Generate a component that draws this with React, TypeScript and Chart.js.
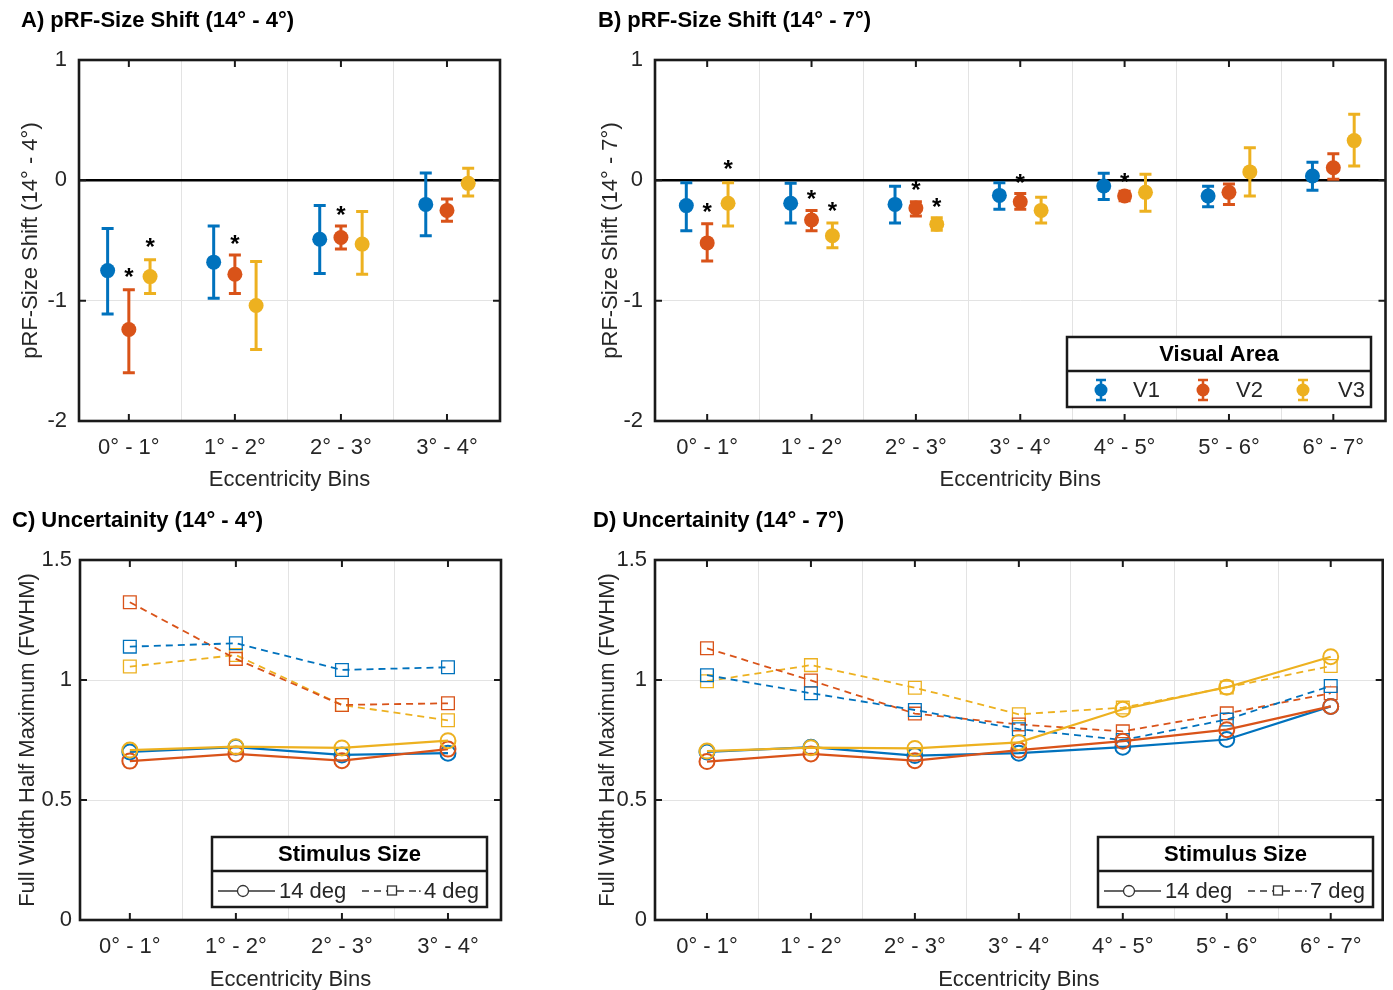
import React, { useEffect, useRef } from "react";
import { Chart, registerables } from "chart.js";
Chart.register(...registerables);

const FONT = "'Liberation Sans', Arial, Helvetica, sans-serif";
const TEXT_COLOR = "#262626";
const AXIS_COLOR = "#1a1a1a";
const GRID_COLOR = "#e3e3e3";
const BLUE = "#0072BD";
const ORANGE = "#D95319";
const YELLOW = "#EDB120";
const AREA_COLORS = [BLUE, ORANGE, YELLOW];
const AREA_NAMES = ["V1", "V2", "V3"];
const AREA_OFFSETS = [-0.2, 0, 0.2];

// ---------- categories / ticks ----------
const binsA = ["0° - 1°", "1° - 2°", "2° - 3°", "3° - 4°"];
const binsB = ["0° - 1°", "1° - 2°", "2° - 3°", "3° - 4°", "4° - 5°", "5° - 6°", "6° - 7°"];
const shiftTicks = [-2, -1, 0, 1];
const fwhmTicks = [0, 0.5, 1, 1.5];

// ---------- Panel A: pRF-size shift (14° - 4°) ----------
const shiftA_V1 = [-0.75, -0.68, -0.49, -0.2];
const shiftA_V1_hi = [-0.4, -0.38, -0.21, 0.06];
const shiftA_V1_lo = [-1.11, -0.98, -0.775, -0.46];
const shiftA_V2 = [-1.24, -0.78, -0.475, -0.25];
const shiftA_V2_hi = [-0.91, -0.62, -0.38, -0.155];
const shiftA_V2_lo = [-1.6, -0.94, -0.57, -0.34];
const shiftA_V3 = [-0.8, -1.04, -0.53, -0.025];
const shiftA_V3_hi = [-0.66, -0.675, -0.26, 0.1];
const shiftA_V3_lo = [-0.94, -1.405, -0.78, -0.13];
const starsA_bin = [0, 0, 1, 2];
const starsA_area = [1, 2, 1, 1];
const starsA_y = [-0.76, -0.51, -0.48, -0.24];

// ---------- Panel B: pRF-size shift (14° - 7°) ----------
const shiftB_V1 = [-0.21, -0.19, -0.2, -0.125, -0.047, -0.13, 0.036];
const shiftB_V1_hi = [-0.02, -0.025, -0.05, -0.02, 0.058, -0.05, 0.15];
const shiftB_V1_lo = [-0.42, -0.355, -0.355, -0.24, -0.16, -0.22, -0.083];
const shiftB_V2 = [-0.52, -0.33, -0.23, -0.178, -0.13, -0.1, 0.105];
const shiftB_V2_hi = [-0.36, -0.25, -0.178, -0.11, -0.09, -0.03, 0.22];
const shiftB_V2_lo = [-0.67, -0.42, -0.297, -0.24, -0.17, -0.2, 0.008];
const shiftB_V3 = [-0.19, -0.46, -0.364, -0.25, -0.1, 0.07, 0.33];
const shiftB_V3_hi = [-0.02, -0.355, -0.31, -0.14, 0.05, 0.27, 0.55];
const shiftB_V3_lo = [-0.38, -0.56, -0.414, -0.355, -0.256, -0.13, 0.12];
const starsB_bin = [0, 0, 1, 1, 2, 2, 3, 4];
const starsB_area = [1, 2, 1, 2, 1, 2, 1, 1];
const starsB_y = [-0.22, 0.14, -0.11, -0.21, -0.03, -0.172, 0.025, 0.032];

// ---------- Panel C: FWHM (14° vs 4°) ----------
const fwhmC_14_V1 = [0.7, 0.72, 0.688, 0.695];
const fwhmC_14_V2 = [0.662, 0.692, 0.664, 0.712];
const fwhmC_14_V3 = [0.708, 0.722, 0.717, 0.747];
const fwhmC_4_V1 = [1.139, 1.153, 1.042, 1.053];
const fwhmC_4_V2 = [1.324, 1.088, 0.896, 0.903];
const fwhmC_4_V3 = [1.056, 1.104, 0.896, 0.832];

// ---------- Panel D: FWHM (14° vs 7°) ----------
const fwhmD_14_V1 = [0.7, 0.72, 0.685, 0.695, 0.72, 0.752, 0.89];
const fwhmD_14_V2 = [0.66, 0.692, 0.664, 0.708, 0.745, 0.793, 0.89];
const fwhmD_14_V3 = [0.704, 0.718, 0.715, 0.74, 0.878, 0.97, 1.097];
const fwhmD_7_V1 = [1.02, 0.945, 0.875, 0.795, 0.75, 0.835, 0.975];
const fwhmD_7_V2 = [1.132, 0.998, 0.86, 0.815, 0.786, 0.861, 0.945];
const fwhmD_7_V3 = [0.995, 1.062, 0.968, 0.857, 0.885, 0.969, 1.058];

// ---------- helpers ----------
const font = (size: number, weight: string = "normal") => ({ family: FONT, size, weight: weight as any });

function shiftDataset(area: number, means: number[], hi: number[], lo: number[]) {
  return {
    label: AREA_NAMES[area],
    data: means.map((v, i) => ({ x: i + AREA_OFFSETS[area], y: v })),
    backgroundColor: AREA_COLORS[area],
    borderColor: AREA_COLORS[area],
    pointRadius: 7.5,
    pointBorderWidth: 0,
    pointHoverRadius: 7.5,
    errHi: hi,
    errLo: lo,
  };
}

function fwhmDataset(area: number, values: number[], big: boolean, label: string) {
  return {
    label,
    data: values.map((v, i) => ({ x: i, y: v })),
    showLine: true,
    borderColor: AREA_COLORS[area],
    backgroundColor: "rgba(0,0,0,0)",
    pointBackgroundColor: "rgba(0,0,0,0)",
    borderWidth: big ? 2.2 : 1.8,
    borderDash: big ? [] : [7, 5],
    pointStyle: big ? "circle" : "rect",
    pointRadius: big ? 7.5 : 9,
    pointHoverRadius: big ? 7.5 : 9,
    pointBorderWidth: big ? 2 : 1.3,
  };
}

function drawLegendBox(ctx: CanvasRenderingContext2D, x0: number, y0: number, x1: number, y1: number, sep: number, title: string) {
  ctx.save();
  ctx.fillStyle = "#ffffff";
  ctx.fillRect(x0, y0, x1 - x0, y1 - y0);
  ctx.strokeStyle = AXIS_COLOR;
  ctx.lineWidth = 2.5;
  ctx.strokeRect(x0, y0, x1 - x0, y1 - y0);
  ctx.beginPath();
  ctx.moveTo(x0, sep);
  ctx.lineTo(x1, sep);
  ctx.stroke();
  ctx.fillStyle = "#000";
  ctx.font = `bold 22px ${FONT}`;
  ctx.textAlign = "center";
  ctx.textBaseline = "middle";
  ctx.fillText(title, (x0 + x1) / 2, (y0 + sep) / 2 + 1);
  ctx.restore();
}

function visualAreaLegend(ctx: CanvasRenderingContext2D) {
  const x0 = 487, x1 = 791, y0 = 337, y1 = 407, sep = 371;
  drawLegendBox(ctx, x0, y0, x1, y1, sep, "Visual Area");
  const iconX = [521, 623, 723];
  const textX = [553, 656, 758];
  const rowY = 390;
  ctx.save();
  AREA_NAMES.forEach((name, i) => {
    const c = AREA_COLORS[i];
    ctx.strokeStyle = c;
    ctx.lineWidth = 2.5;
    ctx.beginPath();
    ctx.moveTo(iconX[i], rowY - 10);
    ctx.lineTo(iconX[i], rowY + 10);
    ctx.moveTo(iconX[i] - 5, rowY - 10);
    ctx.lineTo(iconX[i] + 5, rowY - 10);
    ctx.moveTo(iconX[i] - 5, rowY + 10);
    ctx.lineTo(iconX[i] + 5, rowY + 10);
    ctx.stroke();
    ctx.fillStyle = c;
    ctx.beginPath();
    ctx.arc(iconX[i], rowY, 6.5, 0, Math.PI * 2);
    ctx.fill();
    ctx.fillStyle = TEXT_COLOR;
    ctx.font = `22px ${FONT}`;
    ctx.textAlign = "left";
    ctx.textBaseline = "middle";
    ctx.fillText(name, textX[i], rowY + 1);
  });
  ctx.restore();
}

function stimulusLegend(ctx: CanvasRenderingContext2D, dx: number, smallLabel: string) {
  const x0 = 212 + dx, x1 = 487 + dx, y0 = 337, y1 = 407, sep = 371;
  drawLegendBox(ctx, x0, y0, x1, y1, sep, "Stimulus Size");
  const rowY = 391;
  ctx.save();
  ctx.strokeStyle = "#333";
  ctx.lineWidth = 1.3;
  ctx.beginPath();
  ctx.moveTo(218 + dx, rowY);
  ctx.lineTo(237 + dx, rowY);
  ctx.moveTo(249 + dx, rowY);
  ctx.lineTo(275 + dx, rowY);
  ctx.stroke();
  ctx.beginPath();
  ctx.arc(243 + dx, rowY, 5.5, 0, Math.PI * 2);
  ctx.stroke();
  ctx.setLineDash([7, 5]);
  ctx.beginPath();
  ctx.moveTo(362 + dx, rowY);
  ctx.lineTo(387 + dx, rowY);
  ctx.moveTo(397 + dx, rowY);
  ctx.lineTo(416 + dx, rowY);
  ctx.stroke();
  ctx.setLineDash([]);
  ctx.strokeRect(387.5 + dx, rowY - 5, 9, 9);
  ctx.fillStyle = "#333";
  ctx.fillRect(419 + dx, rowY - 0.7, 1.6, 1.6);
  ctx.fillStyle = TEXT_COLOR;
  ctx.font = `22px ${FONT}`;
  ctx.textAlign = "left";
  ctx.textBaseline = "middle";
  ctx.fillText("14 deg", 279 + dx, rowY + 1);
  ctx.fillText(smallLabel, 424 + dx, rowY + 1);
  ctx.restore();
}

type Spec = {
  title: string;
  titleX: number;
  titleY: number;
  bins: string[];
  xMin: number;
  yTicks: number[];
  yTitle: string;
  zeroLine: boolean;
  yWidth: number;
  xHeight: number;
  padding: { top: number; right: number; bottom: number; left: number };
  yTitlePad: number;
  xTitlePad: number;
  yTickPad: number;
  datasets: any[];
  stars?: { bin: number[]; area: number[]; y: number[] };
  legend: (ctx: CanvasRenderingContext2D) => void;
};

function makePlugin(spec: Spec) {
  return {
    id: "matlabLook",
    beforeDatasetsDraw(chart: any) {
      const ctx: CanvasRenderingContext2D = chart.ctx;
      const ys = chart.scales.y;
      ctx.save();
      chart.data.datasets.forEach((ds: any, di: number) => {
        if (!ds.errLo) return;
        const meta = chart.getDatasetMeta(di);
        ctx.strokeStyle = ds.borderColor;
        ctx.lineWidth = 3;
        meta.data.forEach((el: any, j: number) => {
          const x = el.x;
          const yH = ys.getPixelForValue(ds.errHi[j]);
          const yL = ys.getPixelForValue(ds.errLo[j]);
          ctx.beginPath();
          ctx.moveTo(x, yH);
          ctx.lineTo(x, yL);
          ctx.moveTo(x - 6, yH);
          ctx.lineTo(x + 6, yH);
          ctx.moveTo(x - 6, yL);
          ctx.lineTo(x + 6, yL);
          ctx.stroke();
        });
      });
      ctx.restore();
    },
    afterDatasetsDraw(chart: any) {
      const ctx: CanvasRenderingContext2D = chart.ctx;
      const { left, right, top, bottom } = chart.chartArea;
      const xs = chart.scales.x;
      const ys = chart.scales.y;
      ctx.save();
      if (spec.stars) {
        const s = spec.stars;
        ctx.fillStyle = "#000";
        ctx.font = `bold 24px ${FONT}`;
        ctx.textAlign = "center";
        ctx.textBaseline = "alphabetic";
        s.bin.forEach((b, k) => {
          const px = xs.getPixelForValue(b + AREA_OFFSETS[s.area[k]]);
          const py = ys.getPixelForValue(s.y[k]);
          ctx.fillText("*", px, py + 0.57 * 24);
        });
      }
      ctx.strokeStyle = AXIS_COLOR;
      ctx.lineWidth = 2;
      ctx.beginPath();
      spec.bins.forEach((_, i) => {
        const px = xs.getPixelForValue(i);
        ctx.moveTo(px, bottom);
        ctx.lineTo(px, bottom - 7);
        ctx.moveTo(px, top);
        ctx.lineTo(px, top + 7);
      });
      spec.yTicks.forEach((v) => {
        const py = ys.getPixelForValue(v);
        ctx.moveTo(left, py);
        ctx.lineTo(left + 7, py);
        ctx.moveTo(right, py);
        ctx.lineTo(right - 7, py);
      });
      ctx.stroke();
      ctx.lineWidth = 2.6;
      ctx.strokeRect(left, top, right - left, bottom - top);
      ctx.restore();
    },
    afterDraw(chart: any) {
      const ctx: CanvasRenderingContext2D = chart.ctx;
      ctx.save();
      ctx.fillStyle = "#000";
      ctx.font = `bold 22px ${FONT}`;
      ctx.textAlign = "left";
      ctx.textBaseline = "middle";
      ctx.fillText(spec.title, spec.titleX, spec.titleY);
      ctx.restore();
      spec.legend(ctx);
    },
  };
}

function buildConfig(spec: Spec): any {
  const n = spec.bins.length;
  const yMin = spec.yTicks[0];
  const yMax = spec.yTicks[spec.yTicks.length - 1];
  return {
    type: "scatter",
    data: { datasets: spec.datasets },
    plugins: [makePlugin(spec)],
    options: {
      responsive: false,
      animation: false,
      devicePixelRatio: 1,
      events: [],
      layout: { padding: spec.padding },
      plugins: { legend: { display: false }, tooltip: { enabled: false }, title: { display: false } },
      scales: {
        x: {
          type: "linear",
          min: spec.xMin,
          max: n - 0.5,
          afterBuildTicks: (s: any) => {
            const t: any[] = [];
            for (let i = 0; i < n; i++) {
              t.push({ value: i });
              if (i < n - 1) t.push({ value: i + 0.5 });
            }
            s.ticks = t;
          },
          afterFit: (s: any) => {
            s.height = spec.xHeight;
          },
          ticks: {
            callback: (v: number) => (Number.isInteger(v) ? spec.bins[v] : ""),
            font: font(22),
            color: TEXT_COLOR,
            padding: 14,
            maxRotation: 0,
            minRotation: 0,
            autoSkip: false,
          },
          grid: {
            drawTicks: false,
            color: (c: any) => (c.tick && c.tick.value % 1 !== 0 ? GRID_COLOR : "rgba(0,0,0,0)"),
            lineWidth: 1,
          },
          border: { display: false },
          title: {
            display: true,
            text: "Eccentricity Bins",
            font: font(22),
            color: TEXT_COLOR,
            padding: { top: 0, bottom: spec.xTitlePad },
          },
        },
        y: {
          type: "linear",
          min: yMin,
          max: yMax,
          afterBuildTicks: (s: any) => {
            s.ticks = spec.yTicks.map((v) => ({ value: v }));
          },
          afterFit: (s: any) => {
            s.width = spec.yWidth;
          },
          ticks: {
            font: font(22),
            color: TEXT_COLOR,
            padding: spec.yTickPad,
            callback: (v: number) => String(v),
          },
          grid: {
            drawTicks: false,
            color: (c: any) => {
              const v = c.tick ? c.tick.value : undefined;
              if (v === undefined || v === yMin || v === yMax) return "rgba(0,0,0,0)";
              if (spec.zeroLine && v === 0) return "#000";
              return GRID_COLOR;
            },
            lineWidth: (c: any) => (spec.zeroLine && c.tick && c.tick.value === 0 ? 2.6 : 1),
          },
          border: { display: false },
          title: {
            display: true,
            text: spec.yTitle,
            font: font(22),
            color: TEXT_COLOR,
            padding: { top: spec.yTitlePad, bottom: 0 },
          },
        },
      },
    },
  };
}

function Panel(props: { left: number; top: number; width: number; height: number; spec: Spec }) {
  const ref = useRef<HTMLCanvasElement>(null);
  useEffect(() => {
    const chart = new Chart(ref.current as HTMLCanvasElement, buildConfig(props.spec));
    return () => chart.destroy();
  }, []);
  return (
    <canvas
      ref={ref}
      width={props.width}
      height={props.height}
      style={{ position: "absolute", left: props.left, top: props.top, width: props.width, height: props.height }}
    />
  );
}

const specA: Spec = {
  title: "A) pRF-Size Shift (14° - 4°)",
  titleX: 21,
  titleY: 21,
  bins: binsA,
  xMin: -0.47,
  yTicks: shiftTicks,
  yTitle: "pRF-Size Shift (14° - 4°)",
  zeroLine: true,
  yWidth: 79,
  xHeight: 79,
  padding: { top: 60, right: 60, bottom: 0, left: 0 },
  yTitlePad: 18,
  xTitlePad: 7,
  yTickPad: 12,
  datasets: [
    shiftDataset(0, shiftA_V1, shiftA_V1_hi, shiftA_V1_lo),
    shiftDataset(1, shiftA_V2, shiftA_V2_hi, shiftA_V2_lo),
    shiftDataset(2, shiftA_V3, shiftA_V3_hi, shiftA_V3_lo),
  ],
  stars: { bin: starsA_bin, area: starsA_area, y: starsA_y },
  legend: () => {},
};

const specB: Spec = {
  title: "B) pRF-Size Shift (14° - 7°)",
  titleX: 18,
  titleY: 21,
  bins: binsB,
  xMin: -0.5,
  yTicks: shiftTicks,
  yTitle: "pRF-Size Shift (14° - 7°)",
  zeroLine: true,
  yWidth: 75,
  xHeight: 79,
  padding: { top: 60, right: 7, bottom: 0, left: 0 },
  yTitlePad: 18,
  xTitlePad: 7,
  yTickPad: 12,
  datasets: [
    shiftDataset(0, shiftB_V1, shiftB_V1_hi, shiftB_V1_lo),
    shiftDataset(1, shiftB_V2, shiftB_V2_hi, shiftB_V2_lo),
    shiftDataset(2, shiftB_V3, shiftB_V3_hi, shiftB_V3_lo),
  ],
  stars: { bin: starsB_bin, area: starsB_area, y: starsB_y },
  legend: (ctx) => visualAreaLegend(ctx),
};

const specC: Spec = {
  title: "C) Uncertainity (14° - 4°)",
  titleX: 12,
  titleY: 21,
  bins: binsA,
  xMin: -0.47,
  yTicks: fwhmTicks,
  yTitle: "Full Width Half Maximum (FWHM)",
  zeroLine: false,
  yWidth: 80,
  xHeight: 75,
  padding: { top: 60, right: 59, bottom: 0, left: 0 },
  yTitlePad: 15,
  xTitlePad: 2,
  yTickPad: 8,
  datasets: [
    fwhmDataset(2, fwhmC_14_V3, true, "V3 14 deg"),
    fwhmDataset(1, fwhmC_14_V2, true, "V2 14 deg"),
    fwhmDataset(0, fwhmC_14_V1, true, "V1 14 deg"),
    fwhmDataset(0, fwhmC_4_V1, false, "V1 4 deg"),
    fwhmDataset(1, fwhmC_4_V2, false, "V2 4 deg"),
    fwhmDataset(2, fwhmC_4_V3, false, "V3 4 deg"),
  ],
  legend: (ctx) => stimulusLegend(ctx, 0, "4 deg"),
};

const specD: Spec = {
  title: "D) Uncertainity (14° - 7°)",
  titleX: 13,
  titleY: 21,
  bins: binsB,
  xMin: -0.5,
  yTicks: fwhmTicks,
  yTitle: "Full Width Half Maximum (FWHM)",
  zeroLine: false,
  yWidth: 75,
  xHeight: 75,
  padding: { top: 60, right: 8, bottom: 0, left: 0 },
  yTitlePad: 15,
  xTitlePad: 2,
  yTickPad: 8,
  datasets: [
    fwhmDataset(2, fwhmD_14_V3, true, "V3 14 deg"),
    fwhmDataset(1, fwhmD_14_V2, true, "V2 14 deg"),
    fwhmDataset(0, fwhmD_14_V1, true, "V1 14 deg"),
    fwhmDataset(0, fwhmD_7_V1, false, "V1 7 deg"),
    fwhmDataset(1, fwhmD_7_V2, false, "V2 7 deg"),
    fwhmDataset(2, fwhmD_7_V3, false, "V3 7 deg"),
  ],
  legend: (ctx) => stimulusLegend(ctx, 306, "7 deg"),
};

export default function App() {
  return (
    <div
      style={{
        position: "absolute",
        left: 0,
        top: 0,
        width: 1393,
        height: 990,
        background: "#ffffff",
        overflow: "hidden",
      }}
    >
      <Panel left={0} top={0} width={560} height={500} spec={specA} />
      <Panel left={580} top={0} width={813} height={500} spec={specB} />
      <Panel left={0} top={500} width={560} height={495} spec={specC} />
      <Panel left={580} top={500} width={813} height={495} spec={specD} />
    </div>
  );
}
